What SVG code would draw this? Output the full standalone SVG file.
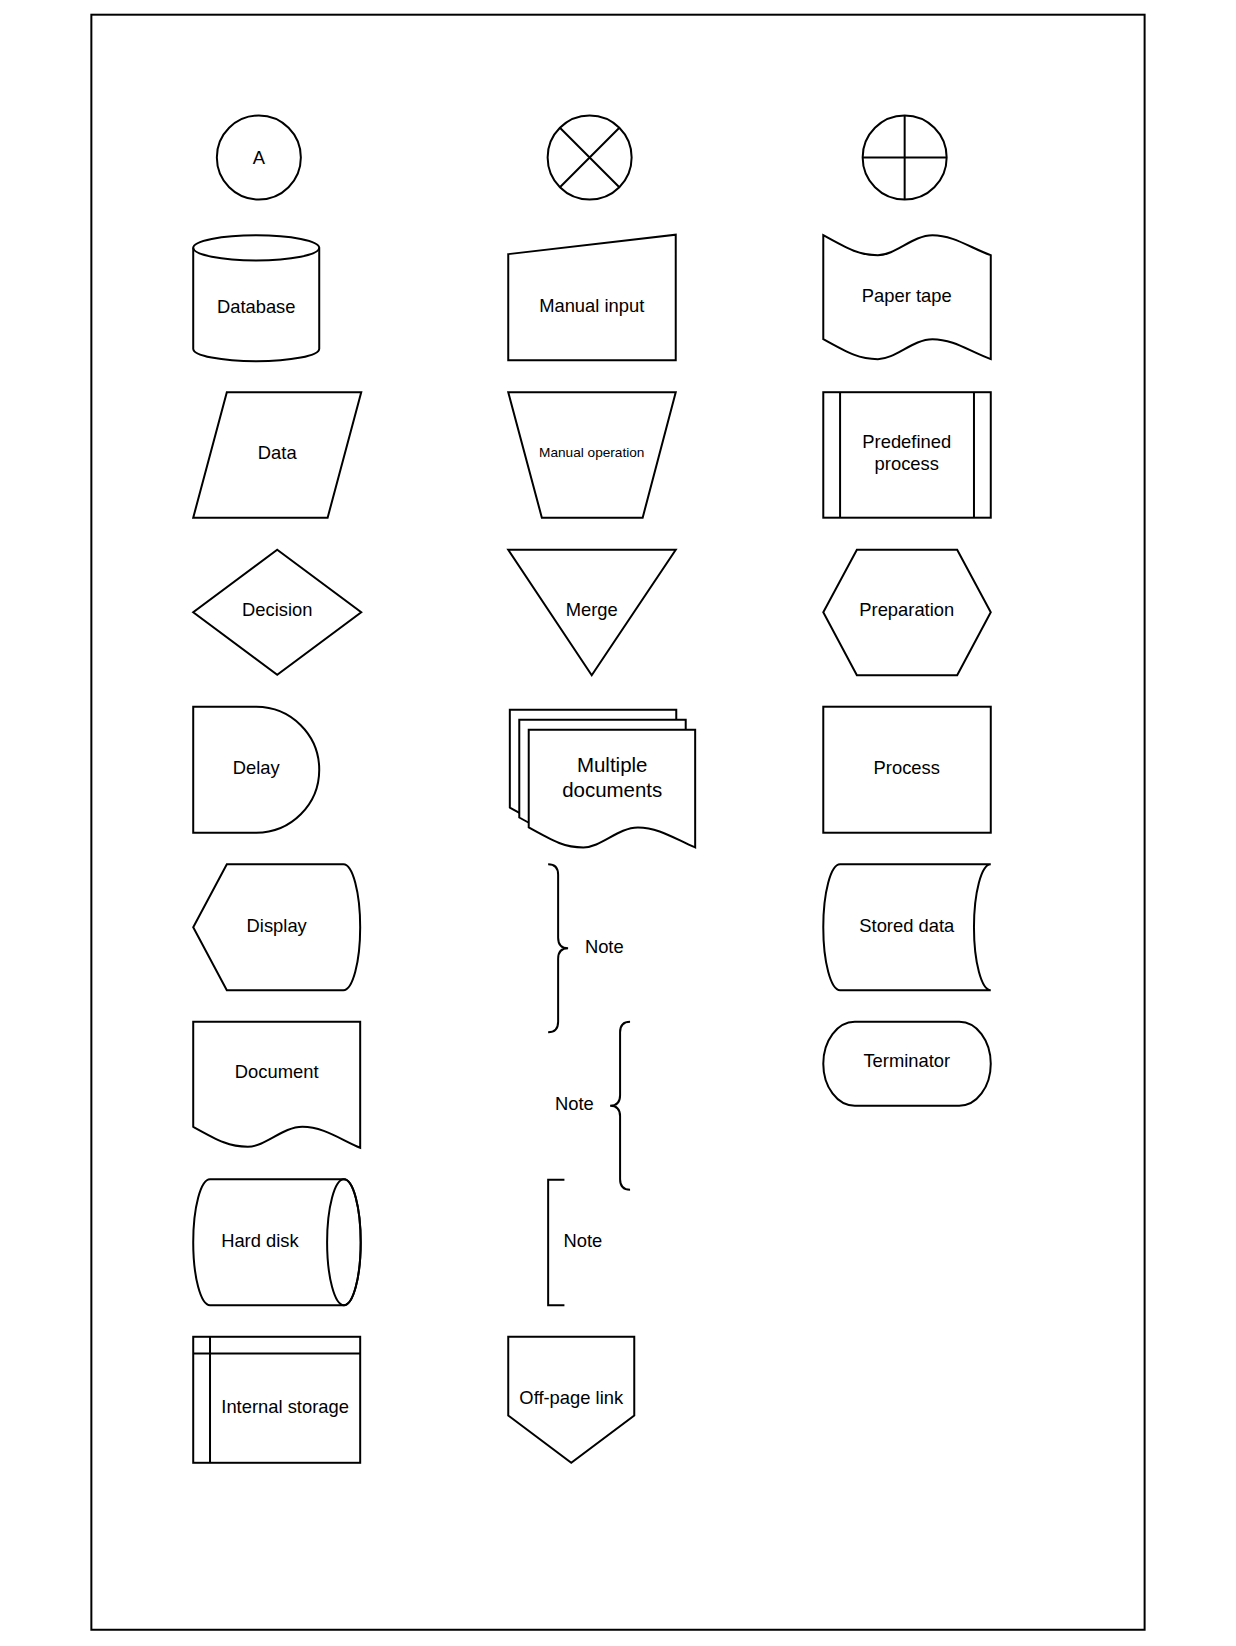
<svg xmlns="http://www.w3.org/2000/svg" width="1236" height="1646" viewBox="0 0 1236 1646">
<style>
.s{fill:#fff;stroke:#000;stroke-width:1.9;stroke-linejoin:miter}
.l{fill:none;stroke:#000;stroke-width:1.9}
.t{font-family:"Liberation Sans",Arial,Helvetica,sans-serif;font-size:17.5px;fill:#000;text-anchor:middle}
.sm{font-size:13px}
.lg{font-size:19.5px}
.st{text-anchor:start}
</style>
<rect x="0" y="0" width="1236" height="1646" fill="#fff"/>
<g transform="scale(1.0501)">
<rect id="page" x="87" y="14" width="1003" height="1538" class="l"/>
<g id="connectors"/>
<g id="connector-a"><circle cx="246.5" cy="150" r="40" class="s"/><text x="246.5" y="156" class="t">A</text></g>
<g id="summing-junction"><circle cx="561.5" cy="150" r="40" class="s"/><path d="M533.2,121.7 L589.8,178.3 M589.8,121.7 L533.2,178.3" class="l"/></g>
<g id="or"><circle cx="861.5" cy="150" r="40" class="s"/><path d="M821.5,150 H901.5 M861.5,110 V190" class="l"/></g>

<g id="database"><path d="M184,236 A60,12 0 0 1 304,236 V332 A60,12 0 0 1 184,332 Z" class="s"/><path d="M184,236 A60,12 0 0 0 304,236" class="l"/><text x="244" y="298.5" class="t">Database</text></g>
<g id="manual-input"><path d="M484,242 L643.5,223.5 V343 H484 Z" class="s"/><text x="563.5" y="297.5" class="t">Manual input</text></g>
<g id="paper-tape"><path d="M784,224 C809,238 819,243 836,243 C853,243 869,224 888,224 C908,224 924,236 943.5,243 V342 C924,335 908,323 888,323 C869,323 853,342 836,342 C819,342 809,337 784,323 Z" class="s"/><text x="863.5" y="287.5" class="t">Paper tape</text></g>

<g id="data"><path d="M216,373.5 H344 L312,493 H184 Z" class="s"/><text x="264" y="437" class="t">Data</text></g>
<g id="manual-operation"><path d="M484,373.5 H643.5 L612,493 H516 Z" class="s"/><text x="563.5" y="435.5" class="t sm">Manual operation</text></g>
<g id="predefined-process"><rect x="784" y="373.5" width="159.5" height="119.5" class="s"/><path d="M800,373.5 V493 M927.5,373.5 V493" class="l"/><text x="863.5" y="426.5" class="t">Predefined</text><text x="863.5" y="448" class="t">process</text></g>

<g id="decision"><path d="M264,523.5 L344,583 L264,642.5 L184,583 Z" class="s"/><text x="264" y="587" class="t">Decision</text></g>
<g id="merge"><path d="M484,523.5 H643.5 L563.5,643 Z" class="s"/><text x="563.5" y="587" class="t">Merge</text></g>
<g id="preparation"><path d="M816,523.5 H911.5 L943.5,583 L911.5,643 H816 L784,583 Z" class="s"/><text x="863.5" y="587" class="t">Preparation</text></g>

<g id="delay"><path d="M184,673 H244 A60,60 0 0 1 244,793 H184 Z" class="s"/><text x="244" y="737.5" class="t">Delay</text></g>
<g id="multiple-documents">
<path d="M485.5,676 H644 V788 C625,780 609.5,769 589.5,769 C570.5,769 554.5,788 537.5,788 C520.5,788 510.5,783 485.5,769 Z" class="s"/>
<path d="M494.5,685.5 H653 V797.5 C634,789.5 618.5,778.5 598.5,778.5 C579.5,778.5 563.5,797.5 546.5,797.5 C529.5,797.5 519.5,792.5 494.5,778.5 Z" class="s"/>
<path d="M503.5,695 H662 V807 C643,799 627.5,788 607.5,788 C588.5,788 572.5,807 555.5,807 C538.5,807 528.5,802 503.5,788 Z" class="s"/>
<text x="583" y="735.5" class="t lg">Multiple</text><text x="583" y="759" class="t lg">documents</text></g>
<g id="process"><rect x="784" y="673" width="159.5" height="120" class="s"/><text x="863.5" y="737.5" class="t">Process</text></g>

<g id="display"><path d="M216,823 H327 A16,60 0 0 1 327,943 H216 L184,883 Z" class="s"/><text x="263.5" y="887.5" class="t">Display</text></g>
<g id="note-1"><path d="M522,823 Q531.5,823 531.5,833 V893 Q531.5,903 541,903 Q531.5,903 531.5,913 V973 Q531.5,983 522,983" class="l"/><text x="557" y="907.5" class="t st">Note</text></g>
<g id="stored-data"><path d="M800,823 H943.5 A16,60 0 0 0 943.5,943 H800 A16,60 0 0 1 800,823 Z" class="s"/><text x="863.5" y="887.5" class="t">Stored data</text></g>

<g id="document"><path d="M184,973 H343 V1093 C324,1085 308,1073 288,1073 C269,1073 253,1092 236,1092 C219,1092 209,1087 184,1073 Z" class="s"/><text x="263.5" y="1027" class="t">Document</text></g>
<g id="note-2"><path d="M600,973 Q590.5,973 590.5,983 V1043 Q590.5,1053 581,1053 Q590.5,1053 590.5,1063 V1123 Q590.5,1133 600,1133" class="l"/><text x="547" y="1057.5" class="t">Note</text></g>
<g id="terminator"><rect x="784" y="973" width="159.5" height="80" rx="30" ry="40" class="s"/><text x="863.5" y="1016.5" class="t">Terminator</text></g>

<g id="hard-disk"><path d="M200,1123 H327.5 A16,60 0 0 1 327.5,1243 H200 A16,60 0 0 1 200,1123 Z" class="s"/><ellipse cx="327.5" cy="1183" rx="16" ry="60" class="l"/><text x="247.5" y="1187.5" class="t">Hard disk</text></g>
<g id="note-3"><path d="M537.5,1123.5 H522 V1243 H537.5" class="l"/><text x="555" y="1187.5" class="t">Note</text></g>

<g id="internal-storage"><rect x="184" y="1273" width="159" height="120" class="s"/><path d="M200,1273 V1393 M184,1289 H343" class="l"/><text x="271.5" y="1345.5" class="t">Internal storage</text></g>
<g id="off-page-link"><path d="M484,1273 H604 V1348 L544,1393 L484,1348 Z" class="s"/><text x="544" y="1337" class="t">Off-page link</text></g>
</g>
</svg>
